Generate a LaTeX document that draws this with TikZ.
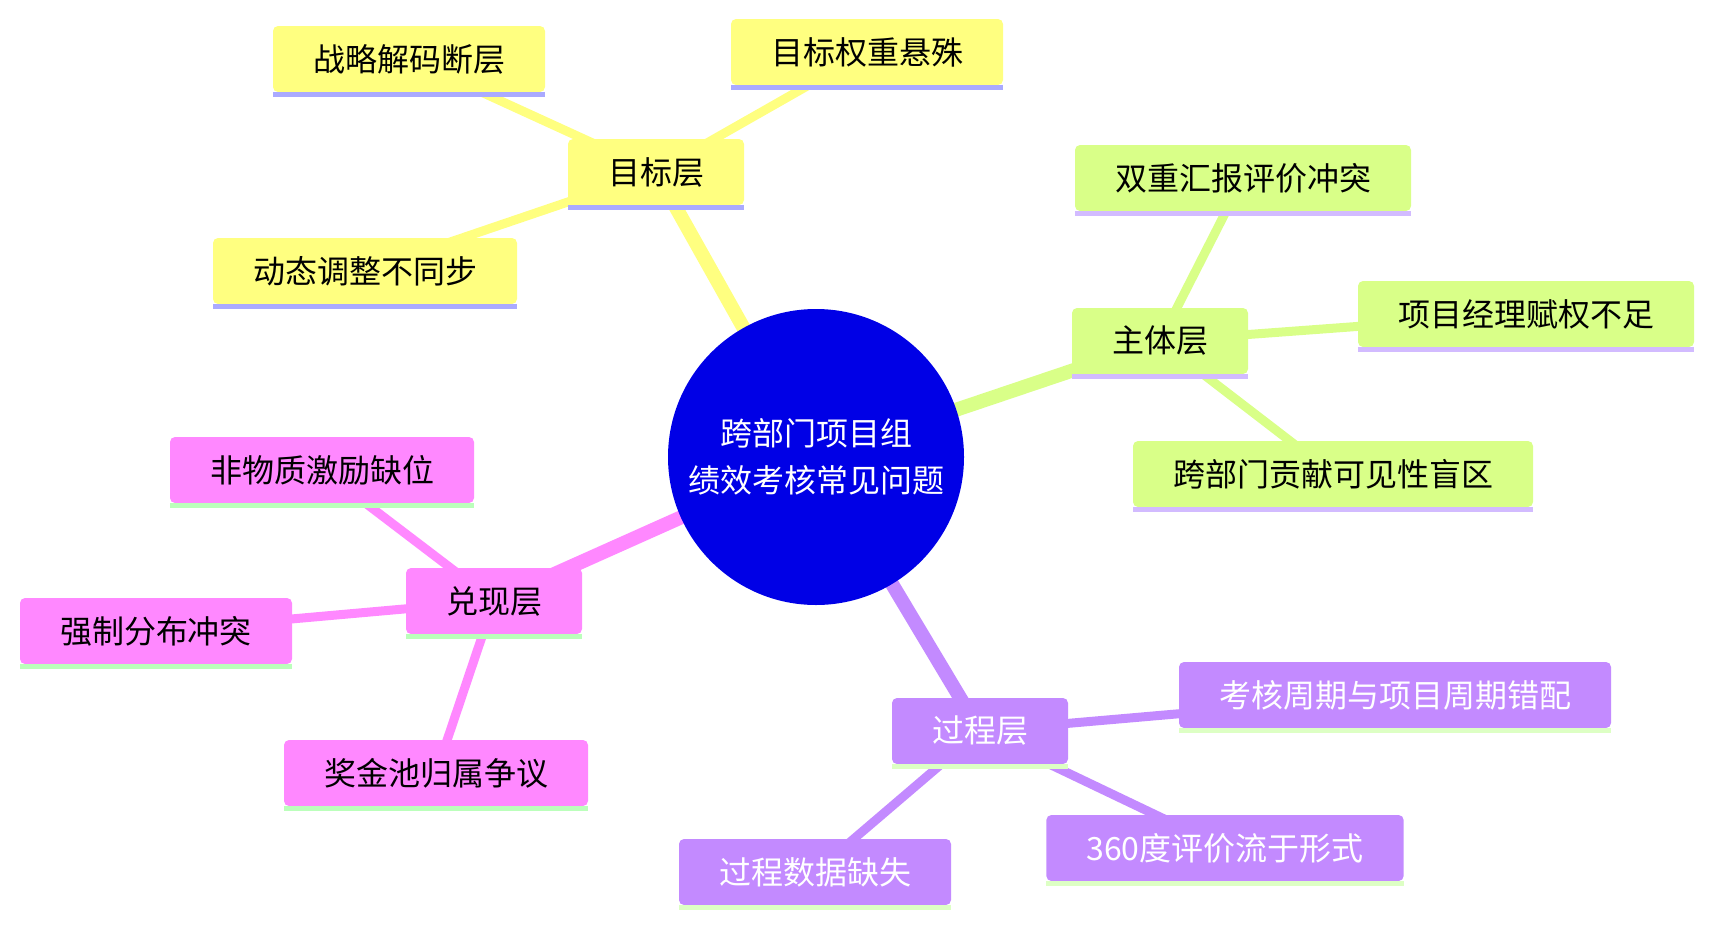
\documentclass[tikz,border=0pt]{standalone}
\usepackage{fontspec}
\setmainfont{Noto Sans CJK SC}
\usepackage{tikz}
\usetikzlibrary{backgrounds}
\definecolor{rootblue}{HTML}{0000E6}
\definecolor{goalfill}{HTML}{FFFF80}
\definecolor{goalbar}{HTML}{AAAAFF}
\definecolor{subjfill}{HTML}{D9FF88}
\definecolor{subjbar}{HTML}{D2BBFF}
\definecolor{payfill}{HTML}{FF88FF}
\definecolor{paybar}{HTML}{BBFFBB}
\definecolor{procfill}{HTML}{C38AFF}
\definecolor{procbar}{HTML}{DDFFC4}
\tikzstyle{topic} = [rectangle, rounded corners=2.5pt, text centered, minimum height=33pt, inner xsep=20pt, inner ysep=2pt, font=\fontsize{16}{19}\selectfont]
\tikzstyle{centre} = [circle, fill=rootblue, text=white, align=center, minimum size=148pt, inner sep=0pt, font=\fontsize{16}{23.5}\selectfont]
\tikzstyle{trunk} = [line width=7pt]
\tikzstyle{twig} = [line width=4.5pt]
\newcommand{\topicbar}[2]{\fill[#2] (#1.south west) rectangle ([yshift=-2.5pt]#1.south east);}

\begin{document}
\begin{tikzpicture}[x=0.5pt, y=-0.5pt]
    \useasboundingbox (0,0) rectangle (1713,926);
    % centre
    \node[centre] (root) at (816,457) {跨部门项目组\\绩效考核常见问题};
    % goal layer
    \node[topic, fill=goalfill] (goal) at (656,172) {目标层};
    \node[topic, fill=goalfill] (g1) at (409,59) {战略解码断层};
    \node[topic, fill=goalfill] (g2) at (867,52) {目标权重悬殊};
    \node[topic, fill=goalfill] (g3) at (365,271) {动态调整不同步};
    % subject layer
    \node[topic, fill=subjfill] (subj) at (1160,341) {主体层};
    \node[topic, fill=subjfill] (s1) at (1243,178) {双重汇报评价冲突};
    \node[topic, fill=subjfill] (s2) at (1526,314) {项目经理赋权不足};
    \node[topic, fill=subjfill] (s3) at (1333,474) {跨部门贡献可见性盲区};
    % payoff layer
    \node[topic, fill=payfill] (pay) at (494,601) {兑现层};
    \node[topic, fill=payfill] (p1) at (322,470) {非物质激励缺位};
    \node[topic, fill=payfill] (p2) at (156,631) {强制分布冲突};
    \node[topic, fill=payfill] (p3) at (436,773) {奖金池归属争议};
    % process layer
    \node[topic, fill=procfill, text=white] (proc) at (980,731) {过程层};
    \node[topic, fill=procfill, text=white] (c1) at (1395,695) {考核周期与项目周期错配};
    \node[topic, fill=procfill, text=white] (c2) at (1225,848) {360度评价流于形式};
    \node[topic, fill=procfill, text=white] (c3) at (815,872) {过程数据缺失};
    % bars under the boxes
    \foreach \n in {goal,g1,g2,g3} {\topicbar{\n}{goalbar}}
    \foreach \n in {subj,s1,s2,s3} {\topicbar{\n}{subjbar}}
    \foreach \n in {pay,p1,p2,p3} {\topicbar{\n}{paybar}}
    \foreach \n in {proc,c1,c2,c3} {\topicbar{\n}{procbar}}
    % links
    \begin{scope}[on background layer]
        \draw[trunk, goalfill] (root.center) -- (goal.center);
        \draw[trunk, subjfill] (root.center) -- (subj.center);
        \draw[trunk, payfill] (root.center) -- (pay.center);
        \draw[trunk, procfill] (root.center) -- (proc.center);
        \foreach \n in {g1,g2,g3} {\draw[twig, goalfill] (goal.center) -- (\n.center);}
        \foreach \n in {s1,s2,s3} {\draw[twig, subjfill] (subj.center) -- (\n.center);}
        \foreach \n in {p1,p2,p3} {\draw[twig, payfill] (pay.center) -- (\n.center);}
        \foreach \n in {c1,c2,c3} {\draw[twig, procfill] (proc.center) -- (\n.center);}
    \end{scope}
\end{tikzpicture}
\end{document}
